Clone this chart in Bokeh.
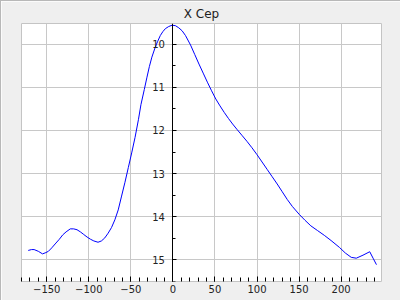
from bokeh.plotting import figure
from bokeh.models import Range1d, SingleIntervalTicker
from bokeh.embed import file_html
from bokeh.resources import INLINE

phase = [-172, -168, -165, -160, -155, -151, -148, -144, -140, -135, -131, -127, -122, -118,
         -114, -110, -106, -102, -98, -94, -89, -85, -81, -77, -73, -69, -65, -61, -57, -53,
         -49, -45, -41, -38, -34, -31, -28, -25, -21, -18, -15, -12, -9, -5, -1, 3, 7, 11, 15,
         21, 26, 31, 36, 41, 46, 51, 56, 61, 66, 71, 76, 82, 88, 94, 100, 106, 112, 118, 124,
         130, 136, 142, 150, 157, 164, 172, 180, 188, 198, 205, 212, 218, 226, 234, 238, 242]
mag = [14.78, 14.76, 14.76, 14.80, 14.86, 14.83, 14.80, 14.72, 14.63, 14.52, 14.42, 14.35,
       14.28, 14.28, 14.30, 14.35, 14.41, 14.47, 14.52, 14.56, 14.59, 14.56, 14.49, 14.38,
       14.25, 14.07, 13.84, 13.52, 13.20, 12.86, 12.52, 12.16, 11.75, 11.40, 11.05, 10.78,
       10.52, 10.30, 10.07, 9.93, 9.80, 9.71, 9.64, 9.59, 9.56, 9.57, 9.62, 9.69, 9.80,
       10.02, 10.24, 10.46, 10.67, 10.88, 11.08, 11.27, 11.43, 11.58, 11.72, 11.85, 11.97,
       12.11, 12.25, 12.40, 12.56, 12.73, 12.90, 13.07, 13.24, 13.42, 13.60, 13.76, 13.94,
       14.08, 14.21, 14.32, 14.43, 14.55, 14.71, 14.84, 14.94, 14.96, 14.89, 14.81, 14.96,
       15.11]

p = figure(width=400, height=300, output_backend="svg", toolbar_location=None,
           x_range=Range1d(-180, 248), y_range=Range1d(15.5, 9.52),
           title="X Cep", min_border_left=20, min_border_right=20, min_border_top=0,
           min_border_bottom=20)
p.line(phase, mag, line_color="#0000ff", line_width=1)

p.background_fill_color = "white"
p.border_fill_color = "#efefef"
p.outline_line_color = "#c4c4c4"
p.title.align = "center"
p.title.text_font = "DejaVu Sans"
p.title.text_font_size = "12px"
p.title.text_font_style = "normal"
p.title.text_color = "#222222"
p.title.standoff = 6

xa = p.xaxis[0]
xa.ticker = SingleIntervalTicker(interval=50, num_minor_ticks=5)
xa.axis_line_color = None
xa.major_tick_in = 5
xa.major_tick_out = 0
xa.minor_tick_in = 4
xa.minor_tick_out = 0
xa.major_tick_line_color = "black"
xa.minor_tick_line_color = "black"
xa.major_label_standoff = 3
xa.major_label_text_font = "DejaVu Sans"
xa.major_label_text_font_size = "10px"
xa.major_label_text_color = "#222222"

ya = p.yaxis[0]
ya.ticker = SingleIntervalTicker(interval=1, num_minor_ticks=2)
ya.fixed_location = 0
ya.axis_line_color = "black"
ya.major_tick_in = 4
ya.major_tick_out = 0
ya.minor_tick_in = 3
ya.minor_tick_out = 0
ya.major_tick_line_color = "black"
ya.minor_tick_line_color = "black"
ya.major_label_standoff = 8
ya.major_label_text_font = "DejaVu Sans"
ya.major_label_text_font_size = "10px"
ya.major_label_text_color = "#222222"

p.xgrid.grid_line_color = "#c8c8c8"
p.ygrid.grid_line_color = "#c8c8c8"
p.xgrid.ticker = xa.ticker
p.ygrid.ticker = ya.ticker
p.styles = {"border-left": "1px solid #b8b8b8", "border-top": "1px solid #b8b8b8"}

open("out.html", "w").write(file_html(p, INLINE))
